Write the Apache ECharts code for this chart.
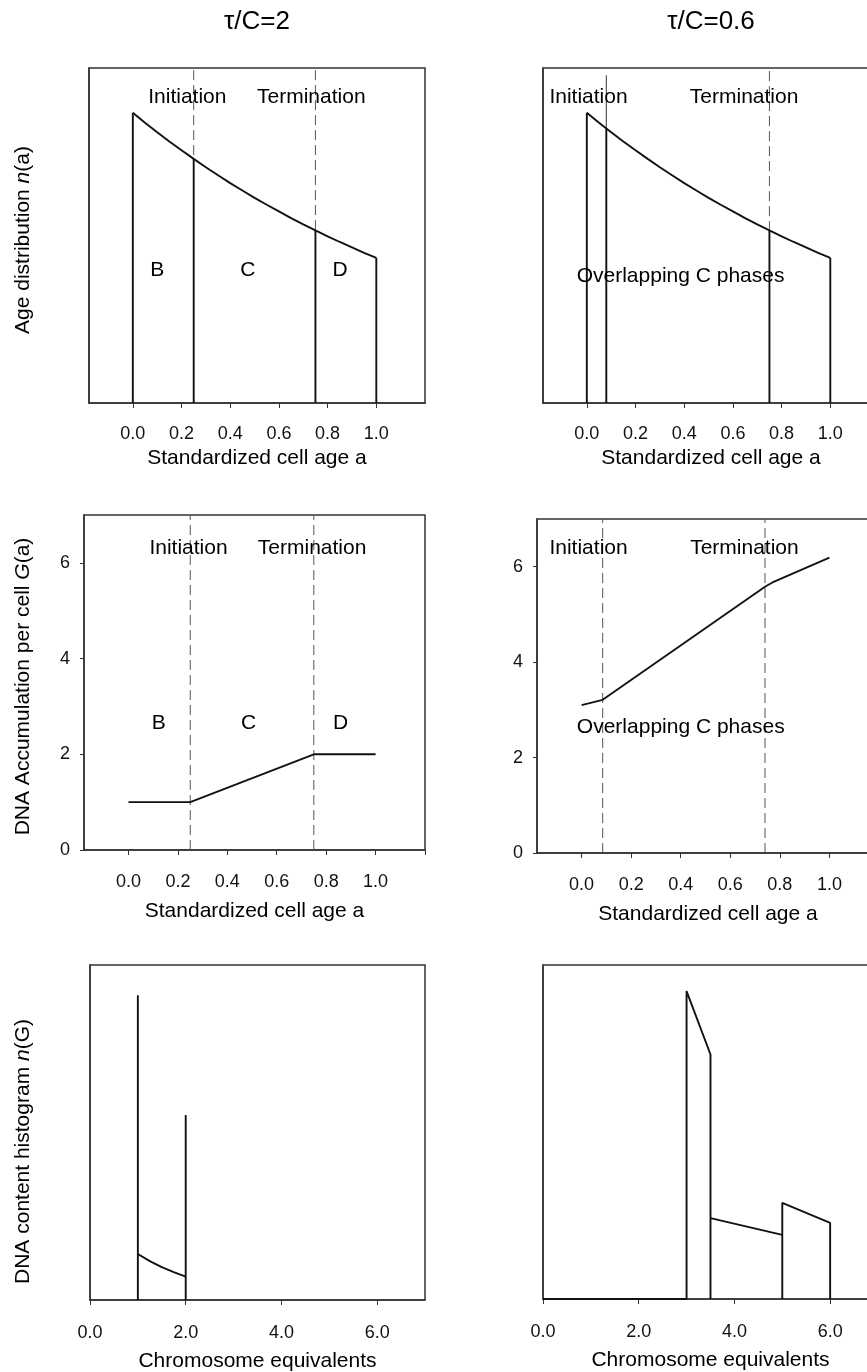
<!DOCTYPE html>
<html><head><meta charset="utf-8">
<script src="https://cdn.jsdelivr.net/npm/echarts@6/dist/echarts.min.js"></script>
<style>html,body{margin:0;padding:0;background:#fff}#c{width:867px;height:1372px}</style>
</head><body><div id="c"></div>
<script>
// ---------------- data ----------------
const columnTitles = ['τ/C=2', 'τ/C=0.6'];
const ageTicks = [0, 0.2, 0.4, 0.6, 0.8, 1.0];
const dnaTicks = [0, 2, 4, 6];
const chromTicks = [0, 2, 4, 6];

// age distribution n(a)
const ageA = [0, 0.05, 0.1, 0.15, 0.2, 0.25, 0.3, 0.35, 0.4, 0.45, 0.5, 0.55, 0.6, 0.65, 0.7, 0.75, 0.8, 0.85, 0.9, 0.95, 1.0];
const ageN = [1.386, 1.339, 1.293, 1.249, 1.207, 1.166, 1.126, 1.088, 1.050, 1.015, 0.980, 0.947, 0.915, 0.883, 0.853, 0.824, 0.796, 0.769, 0.743, 0.717, 0.693];

// solid phase boundaries (age, height)
const phaseLeftA = [0, 0.25, 0.75, 1.0];
const phaseLeftN = [1.386, 1.166, 0.824, 0.693];
const phaseRightA = [0, 0.08, 0.75, 1.0];
const phaseRightN = [1.386, 1.311, 0.824, 0.693];

// initiation / termination markers in top panels (age, top, bottom)
const markTopLeftA = [0.25, 0.75];
const markTopLeftTop = [1.59, 1.59];
const markTopLeftEnd = [1.166, 0.824];
const markTopRightA = [0.08, 0.75];
const markTopRightTop = [1.565, 1.585];
const markTopRightEnd = [1.311, 0.824];

// DNA accumulation G(a)
const gLeftA = [0, 0.25, 0.75, 1.0];
const gLeftG = [1, 1, 2, 2];
const gRightA = [0, 0.085, 0.74, 0.77, 1.0];
const gRightG = [3.1, 3.21, 5.58, 5.67, 6.19];
const markMidLeftA = [0.25, 0.75];
const markMidRightA = [0.085, 0.74];

// DNA content histogram n(G), left
const histLeftSpikeX = [1, 2];
const histLeftSpikeH = [4.55, 2.76];
const histLeftCurveX = [1, 1.25, 1.5, 1.75, 2];
const histLeftCurveY = [0.687, 0.58, 0.49, 0.415, 0.348];

// DNA content histogram n(G), right
const histRightAX = [0, 3, 3, 3.5, 3.5];
const histRightAY = [0, 0, 4.61, 3.66, 0];
const histRightBX = [3.5, 5];
const histRightBY = [1.21, 0.96];
const histRightCX = [5, 5, 6, 6];
const histRightCY = [0, 1.44, 1.14, 0];

// text annotations: [text, x, y]
const annTopLeft = [['Initiation', 0.224, 1.461], ['Termination', 0.733, 1.461], ['B', 0.1, 0.634], ['C', 0.472, 0.634], ['D', 0.851, 0.634]];
const annTopRight = [['Initiation', 0.007, 1.461], ['Termination', 0.646, 1.461], ['Overlapping C phases', 0.385, 0.605]];
const annMidLeft = [['Initiation', 0.243, 6.30], ['Termination', 0.743, 6.30], ['B', 0.123, 2.65], ['C', 0.486, 2.65], ['D', 0.858, 2.65]];
const annMidRight = [['Initiation', 0.028, 6.38], ['Termination', 0.657, 6.38], ['Overlapping C phases', 0.40, 2.63]];

// ---------------- chart ----------------
const FONT = '"Liberation Sans", Arial, sans-serif';
const AX = '#333';
const INK = '#000';

const grids = [
  {left: 89, top: 68, width: 336, height: 335},
  {left: 543, top: 68, width: 336, height: 335},
  {left: 84, top: 515, width: 341, height: 335},
  {left: 537, top: 519, width: 342, height: 334},
  {left: 90, top: 965, width: 335, height: 335},
  {left: 543, top: 965, width: 335, height: 334}
].map(g => Object.assign({show: true, borderColor: AX, borderWidth: 1.5, backgroundColor: 'transparent', outerBoundsMode: 'none', containLabel: false}, g));

function xAx(i, min, max, ticks, tickExtra, name, gap, margin) {
  return {
    gridIndex: i, type: 'value', min: min, max: max,
    axisLine: {show: true, onZero: false, lineStyle: {color: AX, width: 1.5}},
    axisTick: {show: true, customValues: ticks.concat(tickExtra), length: 5, lineStyle: {color: AX, width: 1}},
    axisLabel: {show: true, customValues: ticks, formatter: v => Number(v).toFixed(1), fontSize: 18, color: '#111', fontFamily: FONT, margin: margin},
    splitLine: {show: false},
    name: name, nameLocation: 'middle', nameGap: gap, nameMoveOverlap: false,
    nameTextStyle: {fontSize: 21, color: INK, fontFamily: FONT}
  };
}
function yAx(i, max, labels, name, gap, shift) {
  const o = {
    gridIndex: i, type: 'value', min: 0, max: max,
    axisLine: {show: true, onZero: false, lineStyle: {color: AX, width: 1.5}},
    axisTick: {show: !!labels, length: 4, lineStyle: {color: AX, width: 1}},
    axisLabel: {show: !!labels, fontSize: 18, color: '#111', fontFamily: FONT, margin: 14},
    splitLine: {show: false}
  };
  if (labels) { o.axisTick.customValues = labels; o.axisLabel.customValues = labels; }
  if (name) {
    o.name = name; o.nameLocation = 'middle'; o.nameGap = gap; o.nameMoveOverlap = false;
    o.nameTextStyle = {fontSize: 21, color: INK, fontFamily: FONT, padding: [0, shift, 0, 0],
      rich: {i: {fontStyle: 'italic', fontSize: 21, color: INK, fontFamily: FONT}}};
  }
  return o;
}

const xAxes = [
  xAx(0, -0.18, 1.2, ageTicks, [], 'Standardized cell age a', 45, 22),
  xAx(1, -0.18, 1.2, ageTicks, [], 'Standardized cell age a', 45, 22),
  xAx(2, -0.18, 1.2, ageTicks, [1.2], 'Standardized cell age a', 51, 23),
  xAx(3, -0.18, 1.2, ageTicks, [1.2], 'Standardized cell age a', 51, 23),
  xAx(4, 0, 7, chromTicks, [], 'Chromosome equivalents', 51, 24),
  xAx(5, 0, 7, chromTicks, [], 'Chromosome equivalents', 51, 24)
];
const yAxes = [
  yAx(0, 1.6, null, 'Age distribution {i|n}(a)', 55, 9),
  yAx(1, 1.6, null),
  yAx(2, 7, dnaTicks, 'DNA Accumulation per cell {i|G}(a)', 50, 8),
  yAx(3, 7, dnaTicks),
  yAx(4, 5, null, 'DNA content histogram {i|n}(G)', 56, 38),
  yAx(5, 5, null)
];

const series = [];
function line(gi, xs, ys, style, z) {
  series.push({
    type: 'line', xAxisIndex: gi, yAxisIndex: gi, symbol: 'none', silent: true, animation: false,
    data: xs.map((x, k) => [x, ys[k]]), lineStyle: style, z: z || 3, clip: false
  });
}
const solid = {color: '#111', width: 1.9};
const dashed = {color: '#555', width: 1, type: [10, 5]};
const thin = {color: '#333', width: 1};

function ann(gi, list) {
  series.push({
    type: 'scatter', xAxisIndex: gi, yAxisIndex: gi, symbolSize: 0, silent: true, animation: false, z: 5,
    itemStyle: {opacity: 1},
    data: list.map(a => [a[1], a[2], a[0]]),
    label: {show: true, position: 'inside', opacity: 1, formatter: p => p.data[2], fontSize: 21, color: INK, fontFamily: FONT, textBorderWidth: 0}
  });
}

// top-left
line(0, ageA, ageN, solid);
phaseLeftA.forEach((a, k) => line(0, [a, a], [0, phaseLeftN[k]], solid));
markTopLeftA.forEach((a, k) => line(0, [a, a], [markTopLeftTop[k], markTopLeftEnd[k]], dashed, 2));
ann(0, annTopLeft);
// top-right
line(1, ageA, ageN, solid);
phaseRightA.forEach((a, k) => line(1, [a, a], [0, phaseRightN[k]], solid));
line(1, [markTopRightA[0], markTopRightA[0]], [markTopRightTop[0], markTopRightEnd[0]], thin, 2);
line(1, [markTopRightA[1], markTopRightA[1]], [markTopRightTop[1], markTopRightEnd[1]], dashed, 2);
ann(1, annTopRight);
// mid-left
line(2, gLeftA, gLeftG, solid);
markMidLeftA.forEach(a => line(2, [a, a], [0, 7], dashed, 2));
ann(2, annMidLeft);
// mid-right
line(3, gRightA, gRightG, solid);
markMidRightA.forEach(a => line(3, [a, a], [0, 7], dashed, 2));
ann(3, annMidRight);
// bottom-left
histLeftSpikeX.forEach((x, k) => line(4, [x, x], [0, histLeftSpikeH[k]], solid));
line(4, histLeftCurveX, histLeftCurveY, solid);
// bottom-right
line(5, histRightAX, histRightAY, solid);
line(5, histRightBX, histRightBY, solid);
line(5, histRightCX, histRightCY, solid);

const chart = echarts.init(document.getElementById('c'), null, {renderer: 'canvas'});
chart.setOption({
  animation: false,
  backgroundColor: '#fff',
  title: [
    {text: columnTitles[0], left: 257, top: 9, textAlign: 'center', padding: 0, textStyle: {fontSize: 26, fontWeight: 'normal', color: INK, fontFamily: FONT}},
    {text: columnTitles[1], left: 711, top: 9, textAlign: 'center', padding: 0, textStyle: {fontSize: 26, fontWeight: 'normal', color: INK, fontFamily: FONT}}
  ],
  grid: grids,
  xAxis: xAxes,
  yAxis: yAxes,
  series: series
});
</script>
</body></html>
